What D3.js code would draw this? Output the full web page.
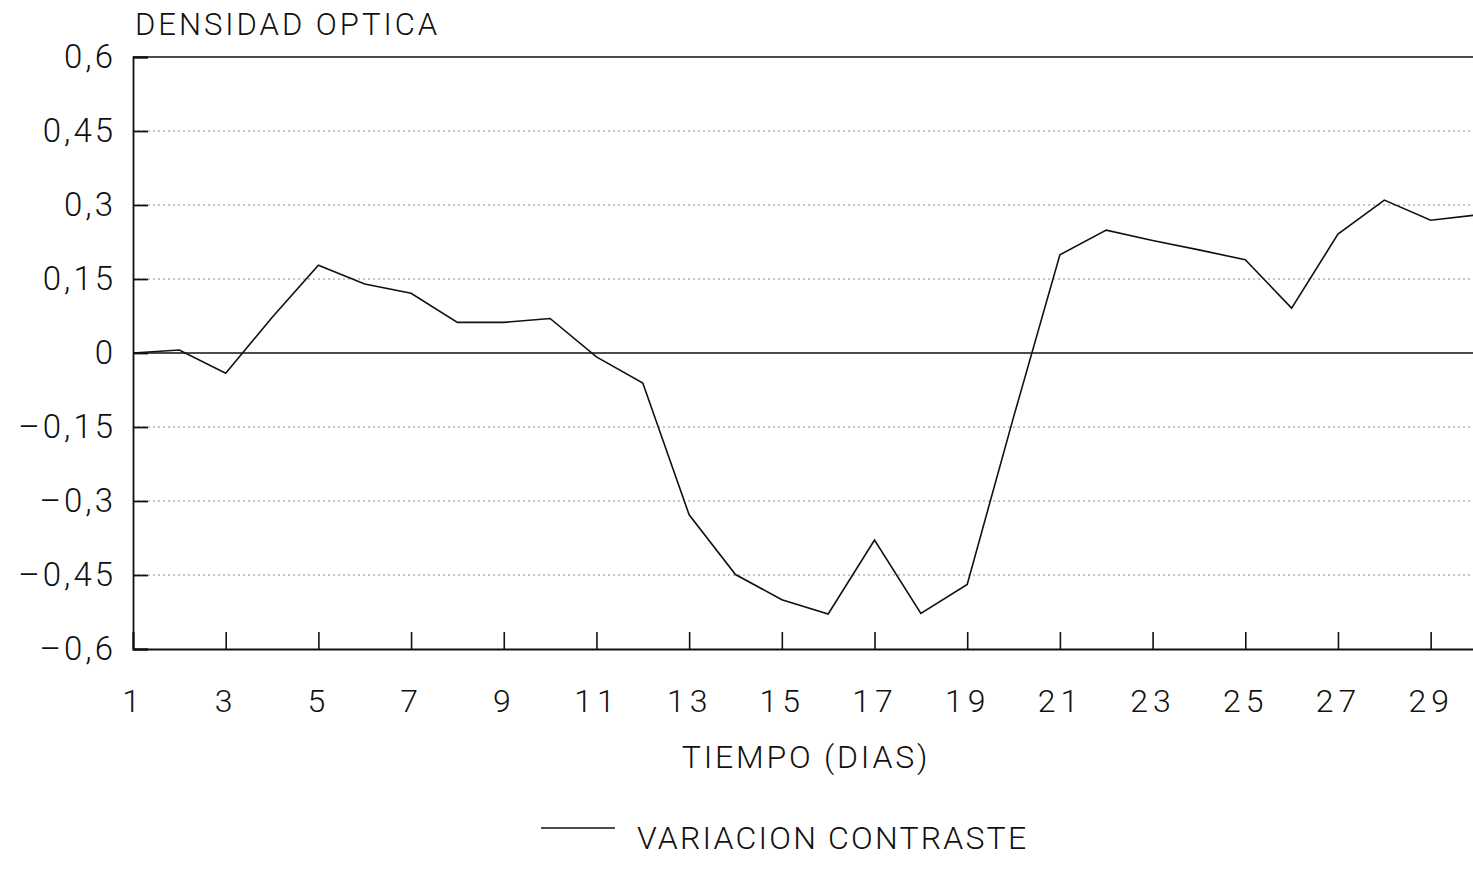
<!DOCTYPE html>
<meta charset="utf-8">
<script src="https://d3js.org/d3.v7.min.js"></script>
<style>
  body { margin: 0; background: #fff; }
  text { font-family: Roboto, "DejaVu Sans", sans-serif; font-weight: 300; fill: #111; }
</style>
<svg id="chart" width="1473" height="882"></svg>
<script>

// data
var days = d3.range(1, 31);
var contraste = [0, 0.006, -0.041, 0.072, 0.178, 0.14, 0.121, 0.062, 0.062, 0.070,
                 -0.008, -0.061, -0.328, -0.449, -0.50, -0.529, -0.379, -0.528, -0.469, -0.13,
                 0.199, 0.249, 0.228, 0.209, 0.189, 0.091, 0.241, 0.31, 0.269, 0.28];
var yTicks = [-0.6, -0.45, -0.3, -0.15, 0, 0.15, 0.3, 0.45, 0.6];
var xTicks = [1, 3, 5, 7, 9, 11, 13, 15, 17, 19, 21, 23, 25, 27, 29];
var seriesName = "VARIACION CONTRASTE";

var svg = d3.select("#chart");

var x = d3.scaleLinear().domain([1, 30]).range([133, 1477]);
var y = d3.scaleLinear().domain([-0.6, 0.6]).range([649, 57]);

// 0.15 -> "0,15", -0.3 -> "–0,3"
var fmt = function(v) {
  var s = String(+v.toFixed(2)).replace(".", ",");
  return s.replace("-", "\u2013");
};

// dotted grid
svg.append("g")
  .selectAll("line")
  .data(yTicks.filter(function(v) { return v != 0 && Math.abs(v) != 0.6; }))
  .enter().append("line")
    .attr("x1", x(1)).attr("x2", x(30))
    .attr("y1", function(d) { return y(d); })
    .attr("y2", function(d) { return y(d); })
    .attr("stroke", "#888")
    .attr("stroke-width", 1)
    .attr("stroke-dasharray", "2,3");

// zero line and top border
svg.append("g")
  .selectAll("line")
  .data([0, 0.6])
  .enter().append("line")
    .attr("x1", x(1)).attr("x2", x(30))
    .attr("y1", function(d) { return y(d); })
    .attr("y2", function(d) { return y(d); })
    .attr("stroke", "#111")
    .attr("stroke-width", 1.6);

// y axis
var yAxis = svg.append("g")
  .attr("transform", "translate(" + x(1) + ",0)")
  .call(d3.axisLeft(y).tickValues(yTicks).tickFormat(fmt).tickSize(-15).tickPadding(17));
yAxis.select(".domain").attr("stroke", "#111").attr("stroke-width", 1.8);
yAxis.selectAll(".tick line").attr("stroke", "#111").attr("stroke-width", 1.8);
yAxis.selectAll(".tick text")
  .attr("font-size", 33)
  .attr("letter-spacing", 3)
  .style("font-family", "Roboto, 'DejaVu Sans', sans-serif");

// x axis
var xAxis = svg.append("g")
  .attr("transform", "translate(0," + y(-0.6) + ")")
  .call(d3.axisBottom(x).tickValues(xTicks).tickSize(-17).tickPadding(40));
xAxis.select(".domain").attr("stroke", "#111").attr("stroke-width", 1.8);
xAxis.selectAll(".tick line").attr("stroke", "#111").attr("stroke-width", 1.6);
xAxis.selectAll(".tick text")
  .attr("font-size", 32)
  .attr("letter-spacing", 5)
  .style("font-family", "Roboto, 'DejaVu Sans', sans-serif");

// series line
var line = d3.line()
  .x(function(d, i) { return x(days[i]); })
  .y(function(d) { return y(d); });

svg.append("path")
  .datum(contraste)
  .attr("fill", "none")
  .attr("stroke", "#111")
  .attr("stroke-width", 1.6)
  .attr("d", line);

// titles
svg.append("text")
  .attr("x", 135).attr("y", 35)
  .attr("font-size", 31)
  .attr("letter-spacing", 3)
  .text("DENSIDAD OPTICA");

svg.append("text")
  .attr("x", 806).attr("y", 768)
  .attr("text-anchor", "middle")
  .attr("font-size", 32)
  .attr("letter-spacing", 2.8)
  .text("TIEMPO (DIAS)");

// legend
svg.append("line")
  .attr("x1", 541).attr("x2", 615)
  .attr("y1", 828).attr("y2", 828)
  .attr("stroke", "#111")
  .attr("stroke-width", 1.6);

svg.append("text")
  .attr("x", 637).attr("y", 849)
  .attr("font-size", 32)
  .attr("letter-spacing", 2.2)
  .text(seriesName);

</script>
